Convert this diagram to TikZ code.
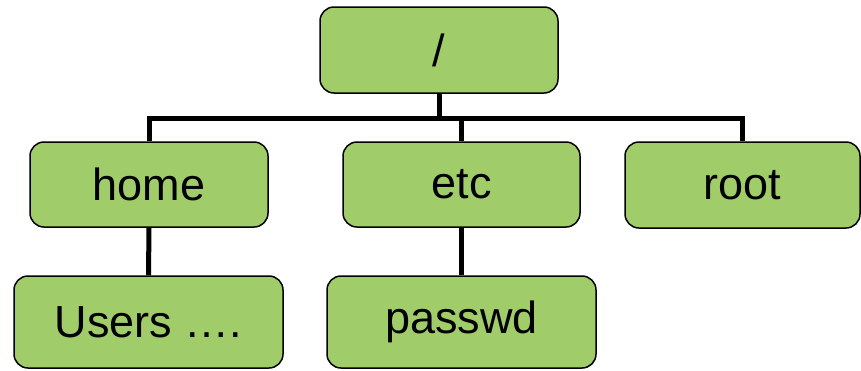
\documentclass[tikz,border=0pt]{standalone}
\usepackage{fontspec}
\setmainfont{Liberation Sans}
\definecolor{boxgreen}{RGB}{160,204,106}
\begin{document}
\begin{tikzpicture}[x=1pt,y=-1pt,
  dirbox/.style={draw=black,line width=1.5pt,fill=boxgreen,rounded corners=14pt,inner sep=0pt,
    font=\fontsize{45}{52}\selectfont},
  conn/.style={line width=5pt}]
\useasboundingbox (0,0) rectangle (861,370);
\node[dirbox,minimum width=238pt,minimum height=86pt] (r) at (439,50) {/};
\node[dirbox,minimum width=238pt,minimum height=85pt] (home) at (149,184.5) {home};
\node[dirbox,minimum width=237pt,minimum height=85pt] (etc) at (461.5,184.5) {etc};
\node[dirbox,minimum width=235pt,minimum height=86pt] (root) at (742.5,185) {root};
\node[dirbox,minimum width=269pt,minimum height=92pt] (users) at (148.5,322) {Users \dots.};
\node[dirbox,minimum width=269pt,minimum height=92pt] (passwd) at (461.5,322) {passwd};
\coordinate (bar) at (439,118);
\draw[conn] (r.south) -- (bar);
\draw[conn] (home.north) |- (root.north |- bar) -- (root.north);
\draw[conn] (etc.north |- bar) -- (etc.north);
\draw[conn] (home.south) -- (users.north);
\draw[conn] (etc.south) -- (passwd.north);
\end{tikzpicture}
\end{document}
